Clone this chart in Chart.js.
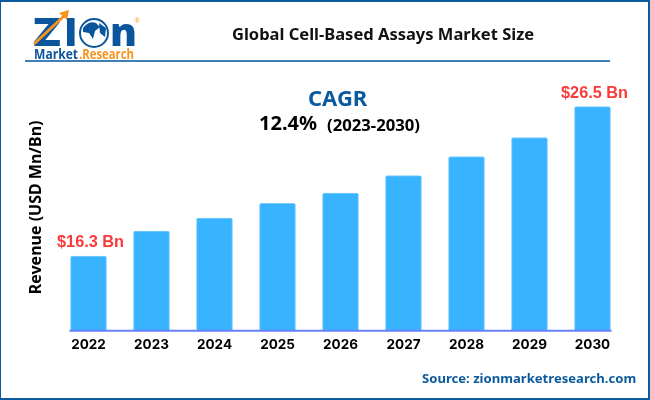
<!DOCTYPE html>
<html>
<head>
<meta charset="utf-8">
<script src="https://cdn.jsdelivr.net/npm/chart.js@4/dist/chart.umd.min.js"></script>
<style>
html, body { margin: 0; padding: 0; background: #fff; overflow: hidden; }
#wrap { position: relative; width: 650px; height: 400px; }
#frame { position: absolute; inset: 0; border: solid #0b5a9e; border-width: 2px 2px 2px 1px; box-sizing: border-box; pointer-events: none; }
#rule { position: absolute; left: 25px; right: 40px; top: 60px; height: 2px; background: #3f7fb5; }
#logo { position: absolute; left: 30px; top: 8px; }
.txt { position: absolute; white-space: nowrap; font-family: "Noto Sans", sans-serif; font-weight: 700; }
</style>
</head>
<body>
<div id="wrap">
    <canvas id="chart" width="650" height="400"></canvas>
    <div id="frame"></div>
    <div id="rule"></div>
    <svg id="logo" width="112" height="52" viewBox="0 0 112 52">
        <text x="3" y="38" font-family="Open Sans" font-weight="800" font-size="39" fill="#0b559c" textLength="28" lengthAdjust="spacingAndGlyphs">Z</text>
        <text x="34" y="38" font-family="Open Sans" font-weight="800" font-size="39" fill="#0b559c">I</text>
        <circle cx="64" cy="25" r="14" fill="#fff" stroke="#0b559c" stroke-width="2"/>
        <path d="M53 20 q6 -8 13 -5 l4 4 -5 4 -2 8 -4 -6 -6 -1z M69 15 l7 5 -1 9 -5 -4z" fill="#0b559c"/>
        <text x="80" y="38" font-family="Open Sans" font-weight="800" font-size="39" fill="#0b559c" textLength="27" lengthAdjust="spacingAndGlyphs">n</text>
        <path d="M4 36 L34 8" stroke="#f7931e" stroke-width="3" fill="none"/>
        <path d="M39 2 L37 12 L29 5z" fill="#f7931e"/>
        <text x="104" y="15" font-family="Open Sans" font-size="7" fill="#f7a64a">®</text>
        <text x="4" y="51" font-family="Open Sans" font-weight="700" font-size="14" fill="#0b559c" textLength="44" lengthAdjust="spacingAndGlyphs">Market</text>
        <text x="49" y="51" font-family="Open Sans" font-weight="700" font-size="14" fill="#f7931e" textLength="55" lengthAdjust="spacingAndGlyphs">.Research</text>
    </svg>
    <div class="txt" style="left:232px;top:22px;font-size:16.5px;color:#111">Global Cell-Based Assays Market Size</div>
    <div class="txt" style="left:308px;top:82px;font-size:22px;color:#0b5a9e">CAGR</div>
    <div class="txt" style="left:259px;top:109px;font-size:20px;color:#000">12.4%</div>
    <div class="txt" style="left:327px;top:113px;font-size:16.7px;color:#000">(2023-2030)</div>
    <div class="txt" style="left:422px;top:369px;font-size:13.1px;color:#0b5a9e">Source: zionmarketresearch.com</div>
</div>
<script>
const years = ['2022', '2023', '2024', '2025', '2026', '2027', '2028', '2029', '2030'];
const revenue = [16.3, 18.0, 18.9, 19.9, 20.6, 21.8, 23.1, 24.4, 26.5];
const endLabels = { 0: '$16.3 Bn', 8: '$26.5 Bn' };

// red labels over the first and last bar, baseline only as wide as the bars
const barExtras = {
    id: 'barExtras',
    afterDatasetsDraw(chart) {
        const ctx = chart.ctx;
        const bars = chart.getDatasetMeta(0).data;
        const first = bars[0];
        const last = bars[bars.length - 1];
        const base = chart.scales.y.bottom;

        ctx.save();
        ctx.strokeStyle = '#6680ff';
        ctx.lineWidth = 2;
        ctx.beginPath();
        ctx.moveTo(first.x - first.width / 2 - 1, base);
        ctx.lineTo(last.x + last.width / 2 + 1, base);
        ctx.stroke();

        ctx.font = 'bold 16.3px "Liberation Sans"';
        ctx.fillStyle = '#fb3a3a';
        ctx.textAlign = 'center';
        ctx.textBaseline = 'alphabetic';
        Object.keys(endLabels).forEach(function (i) {
            ctx.fillText(endLabels[i], bars[i].x + 2, bars[i].y - 9);
        });
        ctx.restore();
    }
};

new Chart('chart', {
    type: 'bar',
    data: {
        labels: years,
        datasets: [{
            data: revenue,
            backgroundColor: '#38b3ff',
            borderColor: '#7cccff',
            borderWidth: 1,
            borderRadius: { topLeft: 2, topRight: 2 },
            borderSkipped: 'bottom',
            barThickness: 36
        }]
    },
    options: {
        responsive: false,
        animation: false,
        layout: { padding: { left: 0, right: 26, top: 84, bottom: 41 } },
        plugins: {
            legend: { display: false },
            tooltip: { enabled: false }
        },
        scales: {
            x: {
                grid: { display: false, drawTicks: false },
                border: { display: false },
                ticks: {
                    color: '#000',
                    padding: 6,
                    font: { family: 'Inter', size: 13.5, weight: 'bold' }
                }
            },
            y: {
                min: 11.2,
                max: 28.05,
                grid: { display: false },
                border: { display: false },
                ticks: { display: false },
                title: {
                    display: true,
                    text: 'Revenue (USD Mn/Bn)',
                    color: '#000',
                    padding: { top: 27, bottom: 0 },
                    font: { family: 'Noto Sans', size: 16, weight: 'bold' }
                },
                afterFit(scale) { scale.width = 57; }
            }
        }
    },
    plugins: [barExtras]
});
</script>
</body>
</html>
